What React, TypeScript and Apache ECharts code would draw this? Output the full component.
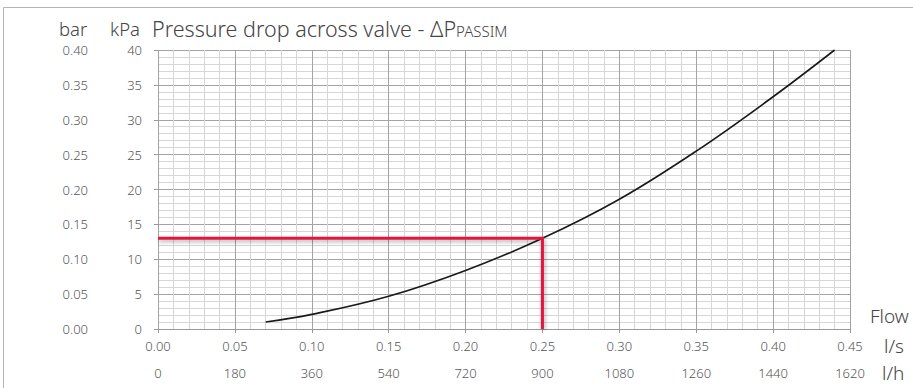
import React, { useEffect, useRef } from "react";
import * as echarts from "echarts";

const flowLs = [0.07, 0.1, 0.15, 0.2, 0.25, 0.3, 0.35, 0.4, 0.44];
const dropKpa = [1.0, 2.1, 4.7, 8.4, 13.0, 18.6, 25.5, 33.3, 40.0];
const readFlow = 0.25;
const readDrop = 13;
const title = "Pressure drop across valve - ΔP";
const subscript = "PASSIM";

const FONT = "'Noto Sans', 'Open Sans', sans-serif";

export default function App() {
  const ref = useRef<HTMLDivElement>(null);
  useEffect(() => {
    if (!ref.current) return;
    const chart = echarts.init(ref.current, undefined, { renderer: "svg" });
    const labelStyle = { color: "#555", fontSize: 13, fontFamily: FONT, fontWeight: 300 as any };
    const txt = (s: string, x: number, y: number, size = 19) => ({
      type: "text", x, y, silent: true,
      style: { text: s, fill: "#444", fontSize: size, fontFamily: FONT, fontWeight: 300, lineHeight: size, textVerticalAlign: "middle" },
    });
    chart.setOption({
      animation: false,
      backgroundColor: "#fff",
      grid: { left: 158, top: 50, right: 63, bottom: 59 },
      graphic: [
        { type: "rect", shape: { x: 3.5, y: 7.5, width: 960, height: 420 }, style: { fill: "none", stroke: "#b5b5b5", lineWidth: 1 }, silent: true },
        txt("bar", 59, 28.5, 18.5),
        txt("kPa", 110, 28.5, 18.5),
        {
          type: "text", x: 152, y: 28.5, silent: true,
          style: {
            text: `{a|${title}}{b|${subscript}}`,
            textVerticalAlign: "middle",
            rich: {
              a: { fill: "#444", fontSize: 21.5, lineHeight: 20, fontFamily: FONT, fontWeight: 300 },
              b: { fill: "#444", fontSize: 15, lineHeight: 20, fontFamily: FONT, fontWeight: 300, padding: [4, 0, 0, 0] },
            },
          },
        },
        txt("Flow", 870, 316),
        txt("l/s", 884, 346),
        txt("l/h", 882, 373),
      ],
      xAxis: [
        {
          type: "value", min: 0, max: 0.45, interval: 0.05, position: "bottom",
          axisLine: { show: true, lineStyle: { color: "#999" } },
          axisTick: { show: true, length: 4, lineStyle: { color: "#999" } },
          axisLabel: { ...labelStyle, margin: 10, formatter: (v: number) => v.toFixed(2) },
          splitLine: { show: true, lineStyle: { color: "#a3a3a3", width: 1 } },
          minorTick: { show: false, splitNumber: 5 },
          minorSplitLine: { show: true, lineStyle: { color: "#d6d6d6", width: 1 } },
        },
        {
          type: "value", min: 0, max: 1620, interval: 180, position: "bottom",
          axisLine: { show: false }, axisTick: { show: false }, splitLine: { show: false },
          axisLabel: { ...labelStyle, margin: 37, formatter: (v: number) => String(v) },
        },
      ],
      yAxis: [
        {
          type: "value", min: 0, max: 40, interval: 5,
          axisLine: { show: false },
          axisTick: { show: true, length: 4, lineStyle: { color: "#999" } },
          axisLabel: { ...labelStyle, margin: 16 },
          splitLine: { show: true, lineStyle: { color: "#a3a3a3", width: 1 } },
          minorTick: { show: false, splitNumber: 5 },
          minorSplitLine: { show: true, lineStyle: { color: "#d6d6d6", width: 1 } },
        },
        {
          type: "value", min: 0, max: 0.4, interval: 0.05, position: "left",
          axisLine: { show: false }, axisTick: { show: false }, splitLine: { show: false },
          axisLabel: { ...labelStyle, margin: 70, formatter: (v: number) => v.toFixed(2) },
        },
      ],
      series: [
        {
          type: "line", xAxisIndex: 0, yAxisIndex: 0,
          data: flowLs.map((f, i) => [f, dropKpa[i]]),
          smooth: 0.4, showSymbol: false, symbol: "none",
          lineStyle: { color: "#1a1a1a", width: 1.6 },
          z: 3,
        },
        {
          type: "line", xAxisIndex: 0, yAxisIndex: 0,
          data: [[0, readDrop], [readFlow, readDrop], [readFlow, 0]],
          showSymbol: false, symbol: "none",
          lineStyle: { color: "#e2183f", width: 3, shadowColor: "rgba(0,0,0,0.35)", shadowBlur: 4, shadowOffsetY: 2, shadowOffsetX: 1, join: "miter", cap: "butt" },
          z: 4,
        },
      ],
    });
    return () => chart.dispose();
  }, []);
  return <div ref={ref} style={{ position: "fixed", left: 0, top: 0, width: 913, height: 388 }} />;
}
